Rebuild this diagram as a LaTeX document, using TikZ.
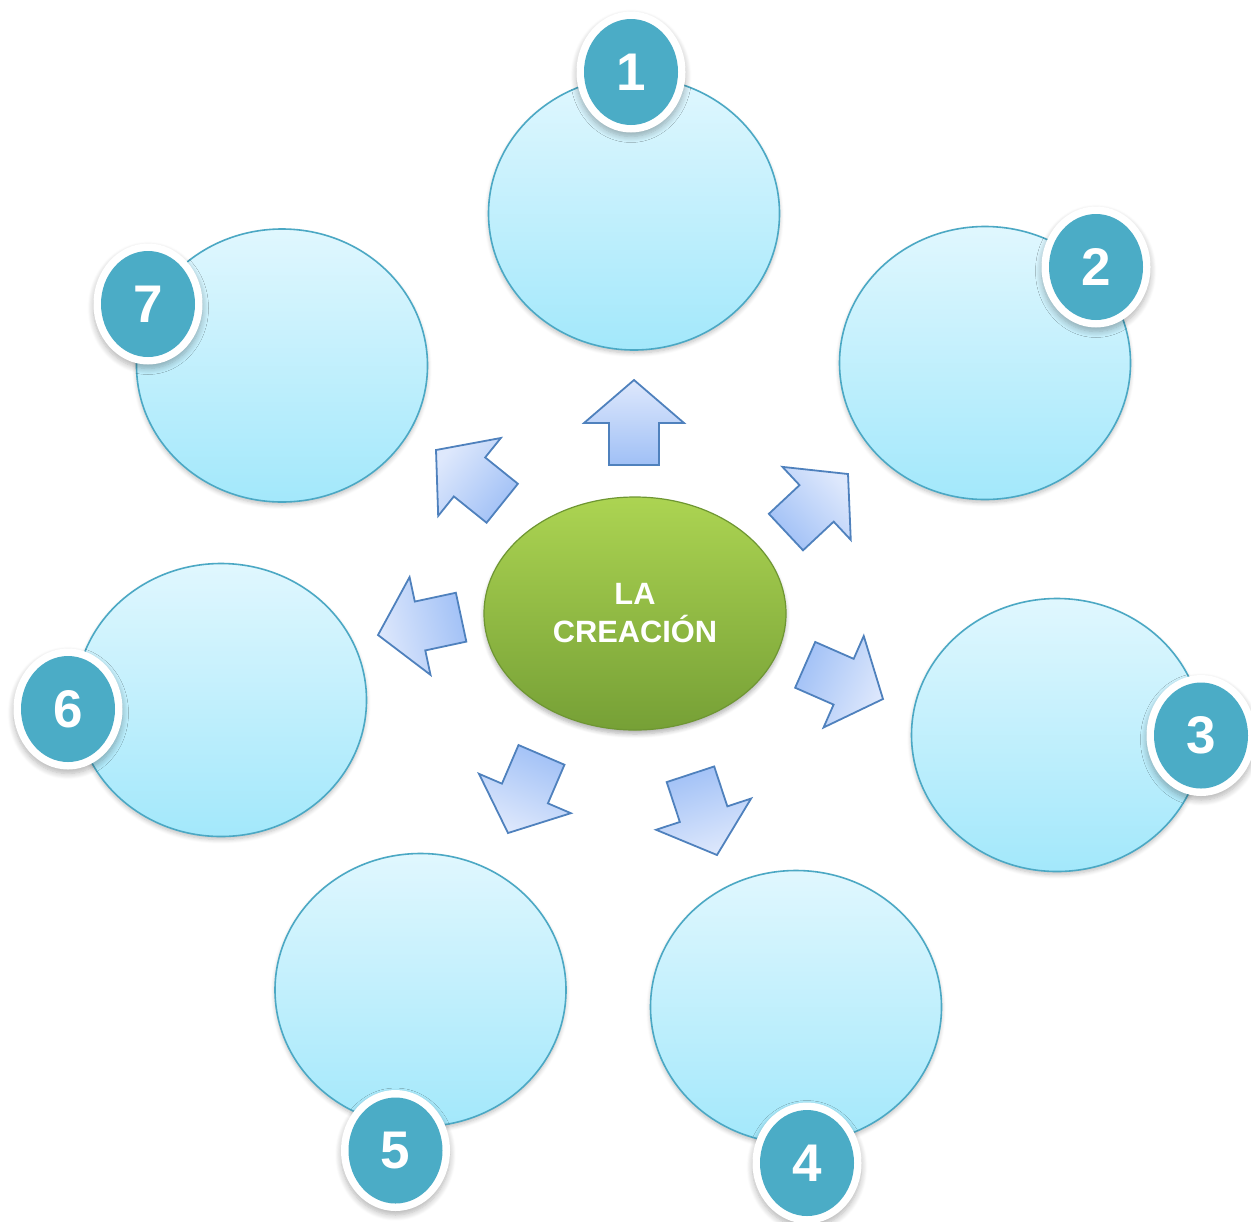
\documentclass[tikz,border=0pt]{standalone}
\usepackage{fontspec}
\setmainfont{Liberation Sans}
\usetikzlibrary{shapes.geometric,shadows,shadows.blur}
\definecolor{circtop}{RGB}{224,247,254}
\definecolor{circbot}{RGB}{163,232,251}
\definecolor{circline}{RGB}{75,168,196}
\definecolor{numfill}{RGB}{75,172,198}
\definecolor{arrline}{RGB}{79,129,189}
\definecolor{arrlight}{RGB}{222,232,252}
\definecolor{arrdark}{RGB}{160,192,246}
\definecolor{gtop}{RGB}{172,212,82}
\definecolor{gbot}{RGB}{118,160,54}
\definecolor{gline}{RGB}{110,150,50}
\tikzset{
  bigc/.style={ellipse, inner sep=0pt, minimum width=145.5pt, minimum height=136.5pt,
    draw=circline, line width=0.8pt, top color=circtop, bottom color=circbot,
    blur shadow={shadow xshift=0pt, shadow yshift=-1.5pt, shadow blur steps=6, shadow opacity=25}},
  numc/.style={ellipse, inner sep=0pt, minimum width=54.5pt, minimum height=60.5pt,
    fill=white, text=white,
    path picture={\fill[numfill] (path picture bounding box.center) ellipse (23.5pt and 26.5pt);},
    font=\fontsize{26.5}{30}\selectfont\bfseries,
    blur shadow={shadow xshift=0pt, shadow yshift=-2pt, shadow blur steps=8, shadow blur radius=3pt, shadow opacity=30}},
  centerc/.style={ellipse, inner sep=0pt, minimum width=151pt, minimum height=116.5pt,
    draw=gline, line width=0.6pt, top color=gtop, bottom color=gbot,
    text=white, align=center, font=\fontsize{15.4}{19}\selectfont\bfseries,
    blur shadow={shadow xshift=0pt, shadow yshift=-2pt, shadow blur steps=6, shadow opacity=30}},
  arrowbody/.style={draw=arrline, line width=0.9pt, line join=miter, top color=arrlight, bottom color=arrdark},
  pics/barrow/.style={code={
    \path[arrowbody, shading angle=#1] (0,0) -- (50,43) -- (25,43) -- (25,85) -- (-25,85) -- (-25,43) -- (-50,43) -- cycle;
  }}
}
\begin{document}
\begin{tikzpicture}[x=0.5pt, y=-0.5pt]
\useasboundingbox (0,0) rectangle (1251,1221);
% big circles
\node[bigc] (c1) at (634,213.5) {};
\node[bigc] (c2) at (985,363) {};
\node[bigc] (c3) at (1057,735) {};
\node[bigc] (c4) at (796,1007) {};
\node[bigc] (c5) at (420.5,990) {};
\node[bigc] (c6) at (221,700) {};
\node[bigc] (c7) at (282,365.5) {};
% number badges
\node[numc] (n1) at (631,72) {1};
\node[numc] (n2) at (1096,267) {2};
\node[numc] (n3) at (1201,735.5) {3};
\node[numc] (n4) at (807,1163) {4};
\node[numc] (n5) at (395.5,1150.5) {5};
\node[numc] (n6) at (68,709) {6};
\node[numc] (n7) at (148,304) {7};
% arrows
\pic[rotate=0] (a1) at (634,380) {barrow=0};
\pic[rotate=-46.9] (a2) at (848,474) {barrow=-46.9};
\pic[rotate=-113.7] (a3) at (883,699) {barrow=-113.7};
\pic[rotate=-161.8] (a4) at (717,855) {barrow=-161.8};
\pic[rotate=156.8] (a5) at (508,833) {barrow=156.8};
\pic[rotate=102.1] (a6) at (378,635) {barrow=102.1};
\pic[rotate=51.2] (a7) at (436,450) {barrow=51.2};
% center
\node[centerc] (ctr) at (635,613.5) {LA\\CREACIÓN};
\end{tikzpicture}
\end{document}
